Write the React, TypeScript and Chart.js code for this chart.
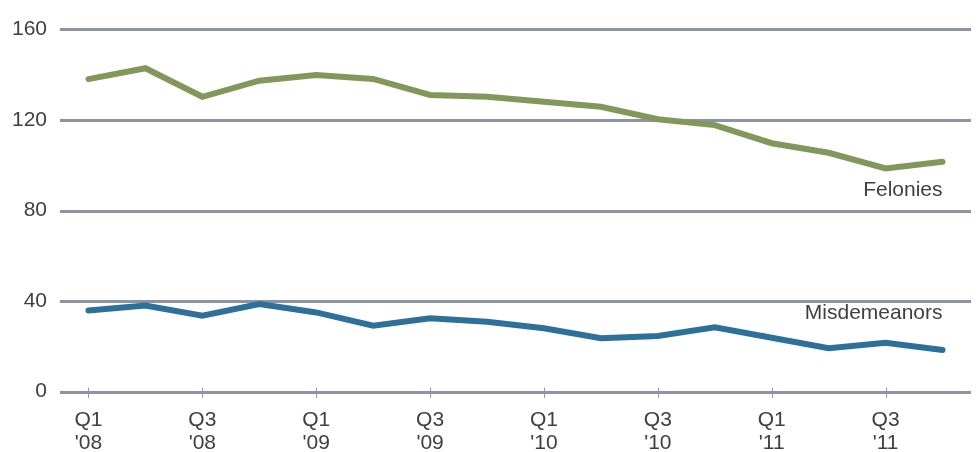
import React, { useEffect, useRef } from "react";
import { Chart, registerables } from "chart.js";

Chart.register(...registerables);

const quarters = [
  "Q1 '08", "Q2 '08", "Q3 '08", "Q4 '08",
  "Q1 '09", "Q2 '09", "Q3 '09", "Q4 '09",
  "Q1 '10", "Q2 '10", "Q3 '10", "Q4 '10",
  "Q1 '11", "Q2 '11", "Q3 '11", "Q4 '11",
];
const felonies = [138, 142.8, 130.2, 137.3, 139.8, 138.1, 131, 130.2, 128, 125.8, 120.3, 117.7, 109.7, 105.5, 98.6, 101.5];
const misdemeanors = [35.8, 38, 33.6, 38.7, 35, 29.1, 32.4, 30.9, 28, 23.6, 24.6, 28.4, 23.8, 19.2, 21.6, 18.4];
const yTicks = [0, 40, 80, 120, 160];
const seriesLabels = ["Felonies", "Misdemeanors"];
const seriesLabelValues = [89, 34.7];

const GREEN = "#82975a";
const BLUE = "#2d719a";
const GRID = "#8b93a6";
const TEXT = "#404040";
const FONT = '21px "Liberation Sans", Arial, sans-serif';

const customAxes = {
  id: "customAxes",
  beforeDatasetsDraw(chart: any) {
    const { ctx, chartArea, scales } = chart;
    const x = scales.x;
    const y = scales.y;
    ctx.save();
    ctx.strokeStyle = GRID;
    ctx.lineWidth = 3;
    yTicks.forEach((v) => {
      const py = Math.round(y.getPixelForValue(v)) + 0.5;
      ctx.beginPath();
      ctx.moveTo(chartArea.left, py);
      ctx.lineTo(chartArea.right, py);
      ctx.stroke();
    });
    // tick marks on base axis
    const base = y.getPixelForValue(0);
    ctx.lineWidth = 1;
    quarters.forEach((q, i) => {
      if (i % 2 !== 0) return;
      const px = Math.round(x.getPixelForValue(i)) + 0.5;
      ctx.beginPath();
      ctx.moveTo(px, base - 4);
      ctx.lineTo(px, base + 6);
      ctx.stroke();
    });
    ctx.fillStyle = TEXT;
    ctx.font = FONT;
    ctx.textAlign = "right";
    ctx.textBaseline = "middle";
    yTicks.forEach((v) => {
      ctx.fillText(String(v), 47, y.getPixelForValue(v));
    });
    ctx.textAlign = "center";
    quarters.forEach((q, i) => {
      if (i % 2 !== 0) return;
      const px = x.getPixelForValue(i);
      const [a, b] = q.split(" ");
      ctx.fillText(a, px, base + 29);
      ctx.fillText(b, px, base + 52);
    });
    // series labels
    ctx.textAlign = "right";
    const lastX = x.getPixelForValue(quarters.length - 1);
    seriesLabels.forEach((s, i) => {
      ctx.fillText(s, lastX, y.getPixelForValue(seriesLabelValues[i]));
    });
    ctx.restore();
  },
};

export default function App() {
  const ref = useRef<HTMLCanvasElement>(null);
  useEffect(() => {
    if (!ref.current) return;
    const chart = new Chart(ref.current, {
      type: "line",
      data: {
        labels: quarters,
        datasets: [
          {
            label: "Felonies",
            data: felonies,
            borderColor: GREEN,
            borderWidth: 6,
            pointRadius: 0,
            tension: 0,
            borderCapStyle: "round",
            borderJoinStyle: "miter",
          },
          {
            label: "Misdemeanors",
            data: misdemeanors,
            borderColor: BLUE,
            borderWidth: 6,
            pointRadius: 0,
            tension: 0,
            borderCapStyle: "round",
            borderJoinStyle: "miter",
          },
        ],
      },
      options: {
        animation: false,
        responsive: false,
        maintainAspectRatio: false,
        layout: { padding: { left: 60, right: 6, top: 29.3, bottom: 60.3 } },
        plugins: { legend: { display: false }, tooltip: { enabled: false }, title: { display: false } },
        scales: {
          x: { type: "category", offset: true, display: false },
          y: { min: 0, max: 160, display: false },
        },
      },
      plugins: [customAxes],
    });
    return () => chart.destroy();
  }, []);
  return (
    <div style={{ position: "fixed", left: 0, top: 0, width: 977, height: 452, background: "#fff" }}>
      <canvas ref={ref} width={977} height={452} style={{ width: 977, height: 452, display: "block" }} />
    </div>
  );
}
